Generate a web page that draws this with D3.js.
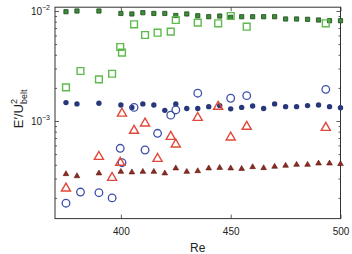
<!DOCTYPE html>
<html>
<head>
<meta charset="utf-8">
<script src="https://cdn.jsdelivr.net/npm/d3@7"></script>
<style>
  body { margin: 0; background: #fff; }
  svg { font-family: "Liberation Sans", Arial, sans-serif; }
</style>
</head>
<body>
<svg id="chart"></svg>
<script>
// Data (Re vs E'/U_belt^2)
const reFilled = [375, 380, 390, 400, 405, 410, 415, 420, 425, 430, 435, 440, 445, 450, 455, 460, 465, 470, 475, 480, 485, 490, 495, 500];
const filledSquares = [9.85e-3, 1.0e-2, 1.0e-2, 9.5e-3, 9.4e-3, 9.65e-3, 9.5e-3, 9.5e-3, 9.1e-3, 9.4e-3, 9.05e-3, 8.87e-3,
                       9.0e-3, 8.76e-3, 8.87e-3, 8.87e-3, 8.87e-3, 8.87e-3, 8.46e-3, 8.46e-3, 8.4e-3, 8.28e-3, 8.16e-3, 8.16e-3];
const filledCircles = [1.47e-3, 1.43e-3, 1.45e-3, 1.40e-3, 1.33e-3, 1.43e-3, 1.40e-3, 1.25e-3, 1.43e-3, 1.30e-3, 1.30e-3, 1.35e-3,
                       1.38e-3, 1.29e-3, 1.33e-3, 1.37e-3, 1.30e-3, 1.43e-3, 1.35e-3, 1.35e-3, 1.38e-3, 1.40e-3, 1.35e-3, 1.32e-3];
const filledTriangles = [3.30e-4, 3.16e-4, 3.35e-4, 3.46e-4, 3.42e-4, 3.46e-4, 3.46e-4, 3.35e-4, 3.72e-4, 3.46e-4, 3.51e-4, 3.72e-4,
                         3.76e-4, 3.72e-4, 3.68e-4, 3.82e-4, 3.74e-4, 3.85e-4, 3.93e-4, 4.01e-4, 4.01e-4, 4.12e-4, 4.12e-4, 4.07e-4];

const reSquares = [375, 381.6, 390, 396, 399.7, 400.5, 406, 411, 416.7, 422.7, 425, 435, 444.3, 450, 457.3, 493.3];
const openSquares = [2.02e-3, 2.85e-3, 2.39e-3, 2.69e-3, 4.71e-3, 4.18e-3, 7.57e-3, 6.05e-3, 6.35e-3, 6.49e-3, 8.28e-3, 7.83e-3,
                     7.73e-3, 9.0e-3, 7.2e-3, 7.73e-3];

const reCircles = [375, 381.6, 390, 396, 399.7, 400.5, 406, 411, 416.7, 422.7, 425, 435, 450, 457.3, 493.3];
const openCircles = [1.79e-4, 2.26e-4, 2.23e-4, 2.0e-4, 5.65e-4, 4.18e-4, 1.33e-3, 5.45e-4, 7.73e-4, 1.13e-3, 1.26e-3, 1.79e-3,
                     1.61e-3, 1.70e-3, 1.94e-3];

const reTriangles = [375, 390, 396, 399.7, 400.5, 406, 411, 416.7, 422.7, 425, 435, 444.3, 450, 457.3, 493.3];
const openTriangles = [2.44e-4, 4.73e-4, 3.05e-4, 4.18e-4, 1.17e-3, 8.17e-4, 9.53e-4, 4.54e-4, 7.2e-4, 6.14e-4, 1.07e-3, 1.35e-3,
                       7.11e-4, 8.88e-4, 8.69e-4];

const xTicks = [400, 450, 500];
const yMajor = [1e-3, 1e-2];
const yMajorLabels = ["\u22123", "\u22122"];

// Layout
const svgWidth = 352, svgHeight = 254;
const plot = { left: 55, right: 340.5, top: 7.2, bottom: 218.6 };

const svg = d3.select("#chart").attr("width", svgWidth).attr("height", svgHeight);

const x = d3.scaleLinear().domain([370, 500]).range([plot.left, plot.right]);
const y = d3.scaleLog().domain([Math.pow(10, -3.887), Math.pow(10, -1.9655)]).range([plot.bottom, plot.top]);

const axisColor = "#333";

// minor log ticks (both sides, pointing in)
const yMinor = y.ticks().filter(v => !yMajor.some(m => Math.abs(m - v) / m < 1e-6));

function styleAxis(g) {
  g.select(".domain").remove();
  g.selectAll(".tick line").attr("stroke", axisColor).attr("stroke-width", 0.8);
}

svg.append("g").attr("transform", `translate(${plot.left},0)`)
  .call(d3.axisLeft(y).tickValues(yMinor).tickSize(-2).tickFormat(""))
  .call(styleAxis);
svg.append("g").attr("transform", `translate(${plot.right},0)`)
  .call(d3.axisRight(y).tickValues(yMinor).tickSize(-2).tickFormat(""))
  .call(styleAxis);
svg.append("g").attr("transform", `translate(${plot.left},0)`)
  .call(d3.axisLeft(y).tickValues(yMajor).tickSize(-4).tickFormat(""))
  .call(styleAxis);
svg.append("g").attr("transform", `translate(${plot.right},0)`)
  .call(d3.axisRight(y).tickValues(yMajor).tickSize(-4).tickFormat(""))
  .call(styleAxis);

// x ticks bottom with labels, top without
const xAxisB = svg.append("g").attr("transform", `translate(0,${plot.bottom})`)
  .call(d3.axisBottom(x).tickValues(xTicks).tickSize(-4).tickPadding(9))
  .call(styleAxis);
xAxisB.selectAll("text").attr("font-size", 10).attr("fill", "#222")
  .attr("font-family", "Liberation Sans, Arial, sans-serif");
svg.append("g").attr("transform", `translate(0,${plot.top})`)
  .call(d3.axisTop(x).tickValues(xTicks).tickSize(-4).tickFormat(""))
  .call(styleAxis);

// y major labels: 10^-n
yMajor.forEach((v, i) => {
  const t = svg.append("text")
    .attr("x", plot.left - 5)
    .attr("y", y(v) + 4)
    .attr("text-anchor", "end")
    .attr("font-size", 10)
    .attr("fill", "#222");
  t.append("tspan").text("10");
  t.append("tspan").attr("dy", -5).attr("font-size", 7).text(yMajorLabels[i]);
});

// frame
svg.append("rect")
  .attr("x", plot.left).attr("y", plot.top)
  .attr("width", plot.right - plot.left).attr("height", plot.bottom - plot.top)
  .attr("fill", "none").attr("stroke", axisColor).attr("stroke-width", 1);

// Marks
const marks = svg.append("g");
const sq = d3.symbol().type(d3.symbolSquare);
const tri = d3.symbol().type(d3.symbolTriangle);

const pair = (xs, ys) => xs.map((r, i) => ({ re: r, v: ys[i] }));

// filled triangles
marks.selectAll(".ftri").data(pair(reFilled, filledTriangles)).enter().append("path")
  .attr("d", tri.size(14)())
  .attr("transform", d => `translate(${x(d.re)},${y(d.v)})`)
  .attr("fill", "#8e2a20").attr("stroke", "#5a1510").attr("stroke-width", 0.6);

// filled circles
marks.selectAll(".fcirc").data(pair(reFilled, filledCircles)).enter().append("circle")
  .attr("cx", d => x(d.re)).attr("cy", d => y(d.v)).attr("r", 2.7)
  .attr("fill", "#28377a");

// filled squares
marks.selectAll(".fsq").data(pair(reFilled, filledSquares)).enter().append("path")
  .attr("d", sq.size(18)())
  .attr("transform", d => `translate(${x(d.re)},${y(d.v)})`)
  .attr("fill", "#3c8c38").attr("stroke", "#1e4a1c").attr("stroke-width", 0.8);

// open squares
marks.selectAll(".osq").data(pair(reSquares, openSquares)).enter().append("path")
  .attr("d", sq.size(46)())
  .attr("transform", d => `translate(${x(d.re)},${y(d.v)})`)
  .attr("fill", "none").attr("stroke", "#5dbb4c").attr("stroke-width", 1.4);

// open circles
marks.selectAll(".ocirc").data(pair(reCircles, openCircles)).enter().append("circle")
  .attr("cx", d => x(d.re)).attr("cy", d => y(d.v)).attr("r", 3.8)
  .attr("fill", "none").attr("stroke", "#3d4faa").attr("stroke-width", 1.3);

// open triangles
marks.selectAll(".otri").data(pair(reTriangles, openTriangles)).enter().append("path")
  .attr("d", tri.size(36)())
  .attr("transform", d => `translate(${x(d.re)},${y(d.v)})`)
  .attr("fill", "none").attr("stroke", "#e0483a").attr("stroke-width", 1.4);

// axis titles
svg.append("text")
  .attr("x", (plot.left + plot.right) / 2)
  .attr("y", 252)
  .attr("text-anchor", "middle")
  .attr("font-size", 12)
  .attr("fill", "#222")
  .text("Re");

const yl = svg.append("text")
  .attr("transform", `translate(23,${(plot.top + plot.bottom) / 2 - 4}) rotate(-90)`)
  .attr("text-anchor", "middle")
  .attr("font-size", 13)
  .attr("fill", "#222");
yl.append("tspan").text("E\u2032/U");
yl.append("tspan").attr("font-size", 9).attr("dy", -6).text("2");
yl.append("tspan").attr("font-size", 9).attr("dx", -5).attr("dy", 10).text("belt");
</script>
</body>
</html>
